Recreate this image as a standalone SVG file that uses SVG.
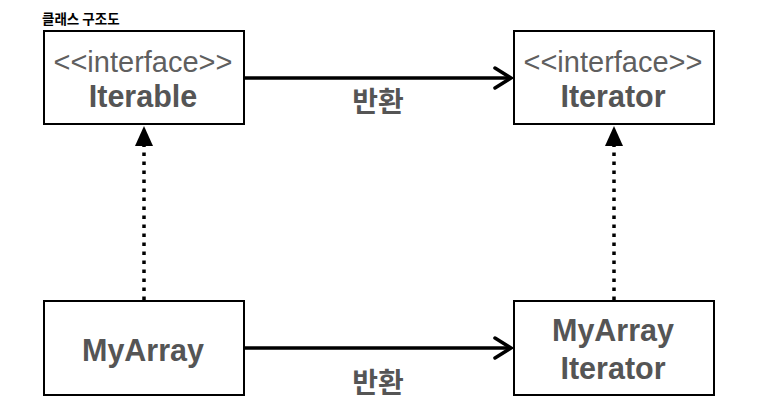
<svg xmlns="http://www.w3.org/2000/svg" width="758" height="418" viewBox="0 0 758 418">
<style>
.box{fill:#fff;stroke:#000;stroke-width:2}
.st{font-family:"Liberation Sans",Arial,sans-serif;font-size:29px;fill:#5f5f5f;text-anchor:middle}
.nm{font-family:"Liberation Sans",Arial,sans-serif;font-size:30.5px;font-weight:bold;fill:#555;text-anchor:middle}
.lb{font-family:"Noto Sans CJK KR",sans-serif;font-size:28px;font-weight:bold;fill:#555;text-anchor:middle}
.ttl{font-family:"Noto Sans CJK KR",sans-serif;font-size:13.5px;font-weight:bold;fill:#000}
.ln{stroke:#000;stroke-width:3.5;fill:none}
.dot{stroke:#000;stroke-width:3.5;fill:none;stroke-dasharray:3.5 5.5}
.chev{stroke:#000;stroke-width:3.5;fill:none;stroke-linecap:round;stroke-linejoin:miter}
</style>
<text class="ttl" x="42" y="24">클래스 구조도</text>
<g id="iterable">
<rect class="box" x="44" y="31" width="200" height="93"/>
<text class="st" x="143" y="72">&lt;&lt;interface&gt;&gt;</text>
<text class="nm" x="143" y="107">Iterable</text>
</g>
<g id="iterator">
<rect class="box" x="514" y="31" width="200" height="93"/>
<text class="st" x="613" y="72">&lt;&lt;interface&gt;&gt;</text>
<text class="nm" x="613" y="107">Iterator</text>
</g>
<g id="myarray">
<rect class="box" x="44" y="301" width="200" height="94"/>
<text class="nm" x="143" y="361">MyArray</text>
</g>
<g id="myarrayiterator">
<rect class="box" x="514" y="301" width="200" height="94"/>
<text class="nm" x="613" y="341">MyArray</text>
<text class="nm" x="613" y="379">Iterator</text>
</g>
<g id="connectors">
<line class="ln" x1="245" y1="78" x2="510" y2="78"/>
<polyline class="chev" points="495,68 511,78 495,88"/>
<text class="lb" x="378" y="112">반환</text>
<line class="ln" x1="245" y1="348" x2="510" y2="348"/>
<polyline class="chev" points="495,338 511,348 495,358"/>
<text class="lb" x="378" y="393">반환</text>
<line class="dot" x1="144" y1="300" x2="144" y2="145"/>
<polygon points="144,126 135,146 153,146" fill="#000"/>
<line class="dot" x1="614" y1="300" x2="614" y2="145"/>
<polygon points="614,126 605,146 623,146" fill="#000"/>
</g>
</svg>
